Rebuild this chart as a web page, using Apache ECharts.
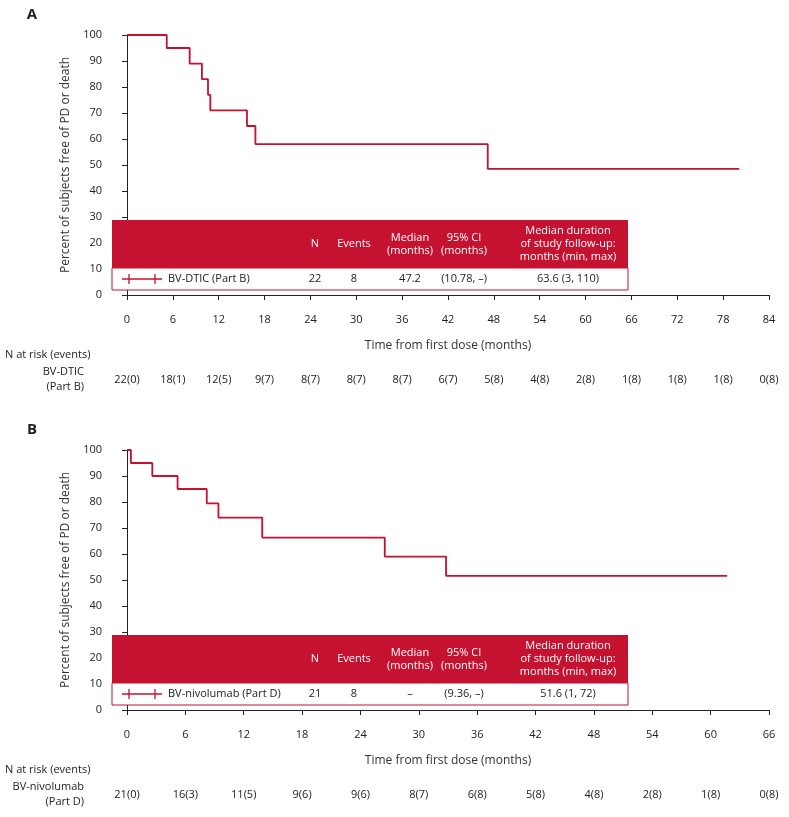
<!DOCTYPE html>
<html><head><meta charset="utf-8">
<script src="https://cdn.jsdelivr.net/npm/echarts@6/dist/echarts.min.js"></script>
<style>html,body{margin:0;padding:0;background:#fff}#c{width:789px;height:817px}</style>
</head><body><div id="c"></div>
<script>
const RED='#c8102e';
// Panel A: KM steps [month, percent]
const stepsA=[[0,100],[5.2,100],[5.2,95],[8.2,95],[8.2,89],[9.8,89],[9.8,83],[10.6,83],[10.6,77],[10.9,77],[10.9,71],[15.7,71],[15.7,65],[16.8,65],[16.8,58],[47.2,58],[47.2,48.5],[80.1,48.5]];
const censorA=[[0,100],[4.2,100],[6.3,95],[8.2,95],[15.2,71],[19.5,58],[39.6,58],[39.9,58],[53.4,48.5],[55.1,48.5],[59.5,48.5],[65.3,48.5],[80.1,48.5]];
const riskMonthsA=[0,6,12,18,24,30,36,42,48,54,60,66,72,78,84];
const riskA=['22(0)','18(1)','12(5)','9(7)','8(7)','8(7)','8(7)','6(7)','5(8)','4(8)','2(8)','1(8)','1(8)','1(8)','0(8)'];
const tableA=['BV-DTIC (Part B)','22','8','47.2','(10.78, –)','63.6 (3, 110)'];
// Panel B
const stepsB=[[0,100],[0.4,100],[0.4,95],[2.6,95],[2.6,90],[5.2,90],[5.2,85],[8.2,85],[8.2,79.5],[9.4,79.5],[9.4,74],[13.9,74],[13.9,66.3],[26.5,66.3],[26.5,59],[32.8,59],[32.8,51.6],[61.7,51.6]];
const censorB=[[0,100],[2.6,90],[8.9,79.5],[9.8,74],[11.3,74],[12.6,74],[32.8,51.6],[40.5,51.6],[47.2,51.6],[49.5,51.6],[53.3,51.6],[54.2,51.6],[61.7,51.6]];
const riskMonthsB=[0,6,12,18,24,30,36,42,48,54,60,66];
const riskB=['21(0)','16(3)','11(5)','9(6)','9(6)','8(7)','6(8)','5(8)','4(8)','2(8)','1(8)','0(8)'];
const tableB=['BV-nivolumab (Part D)','21','8','–','(9.36, –)','51.6 (1, 72)'];
const header=[['N'],['Events'],['Median','(months)'],['95% CI','(months)'],['Median duration','of study follow-up:','months (min, max)']];

const F='"Open Sans", sans-serif';
const tick='path://M0,-1L0,1';
function axes(gi,max){
  return {
    x:{gridIndex:gi,type:'value',min:0,max:max,interval:6,offset:11,
      name:'Time from first dose (months)',nameLocation:'middle',nameGap:34,nameTextStyle:{fontFamily:F,fontSize:12,color:'#333'},
      axisLine:{lineStyle:{color:'#222'}},axisTick:{length:5,lineStyle:{color:'#222'}},axisLabel:{fontFamily:F,fontSize:11,color:'#222'},splitLine:{show:false}},
    y:{gridIndex:gi,type:'value',min:0,max:100,interval:10,offset:17,
      name:'Percent of subjects free of PD or death',nameLocation:'middle',nameGap:38,nameTextStyle:{fontFamily:F,fontSize:12,color:'#333'},
      axisLine:{show:true,lineStyle:{color:'#222'}},axisTick:{show:true,length:5,lineStyle:{color:'#222'}},axisLabel:{fontFamily:F,fontSize:11,color:'#222'},splitLine:{show:false}}
  };
}
const aA=axes(0,84), aB=axes(1,66);
function ser(gi,steps,cens){
  return [
    {type:'line',xAxisIndex:gi,yAxisIndex:gi,data:steps,symbol:'none',lineStyle:{color:RED,width:1.8},z:3},
    {type:'scatter',xAxisIndex:gi,yAxisIndex:gi,data:cens,symbol:tick,symbolSize:[1.5,11],itemStyle:{color:RED},z:4}
  ];
}
const chart=echarts.init(document.getElementById('c'));
chart.setOption({
  animation:false,
  grid:[{left:127,width:642,top:35,height:260},{left:127,width:642,top:450,height:260}],
  xAxis:[aA.x,aB.x], yAxis:[aA.y,aB.y],
  series:[...ser(0,stepsA,censorA),...ser(1,stepsB,censorB)]
});
const g=[];
function txt(x,y,s,opt){g.push(Object.assign({type:'text',x:x,y:y,z:10,style:Object.assign({text:s,fontFamily:F,fontSize:11,fill:'#222',textAlign:'center',textVerticalAlign:'middle'},opt||{})}));}
function table(top,row){
  g.push({type:'rect',z:8,shape:{x:112,y:top,width:516,height:48},style:{fill:'#c41230'}});
  g.push({type:'rect',z:8,shape:{x:112,y:top+48,width:516,height:22},style:{fill:'#fff',stroke:'#c41230',lineWidth:1}});
  const cx=[315,354,410,464,568];
  header.forEach((h,i)=>{const n=h.length;h.forEach((s,j)=>txt(cx[i],top+24+(j-(n-1)/2)*13,s,{fill:'#fff'}));});
  const ry=top+59;
  g.push({type:'line',z:10,shape:{x1:122,y1:ry,x2:162,y2:ry},style:{stroke:RED,lineWidth:1.5}});
  [129,155].forEach(x=>g.push({type:'line',z:10,shape:{x1:x,y1:ry-5,x2:x,y2:ry+5},style:{stroke:RED,lineWidth:1.3}}));
  txt(168,ry,row[0],{textAlign:'left'});
  row.slice(1).forEach((s,i)=>txt(cx[i],ry,s));
}
table(220,tableA); table(635,tableB);
function risk(gi,months,vals,y,l1,l2,yl){
  txt(5,yl,'N at risk (events)',{textAlign:'left'});
  txt(84,yl+17,l1,{textAlign:'right'});
  txt(84,yl+32,l2,{textAlign:'right'});
  months.forEach((m,i)=>{const p=chart.convertToPixel({xAxisIndex:gi},m);txt(p,y,vals[i]);});
}
risk(0,riskMonthsA,riskA,380,'BV-DTIC','(Part B)',355);
risk(1,riskMonthsB,riskB,795,'BV-nivolumab','(Part D)',770);
g.push({type:'text',x:32,y:15,z:10,style:{text:'A',fontFamily:F,fontSize:15,fontWeight:'bold',fill:'#222',textAlign:'center',textVerticalAlign:'middle'}});
g.push({type:'text',x:32,y:430,z:10,style:{text:'B',fontFamily:F,fontSize:15,fontWeight:'bold',fill:'#222',textAlign:'center',textVerticalAlign:'middle'}});
chart.setOption({graphic:g});
</script></body></html>
